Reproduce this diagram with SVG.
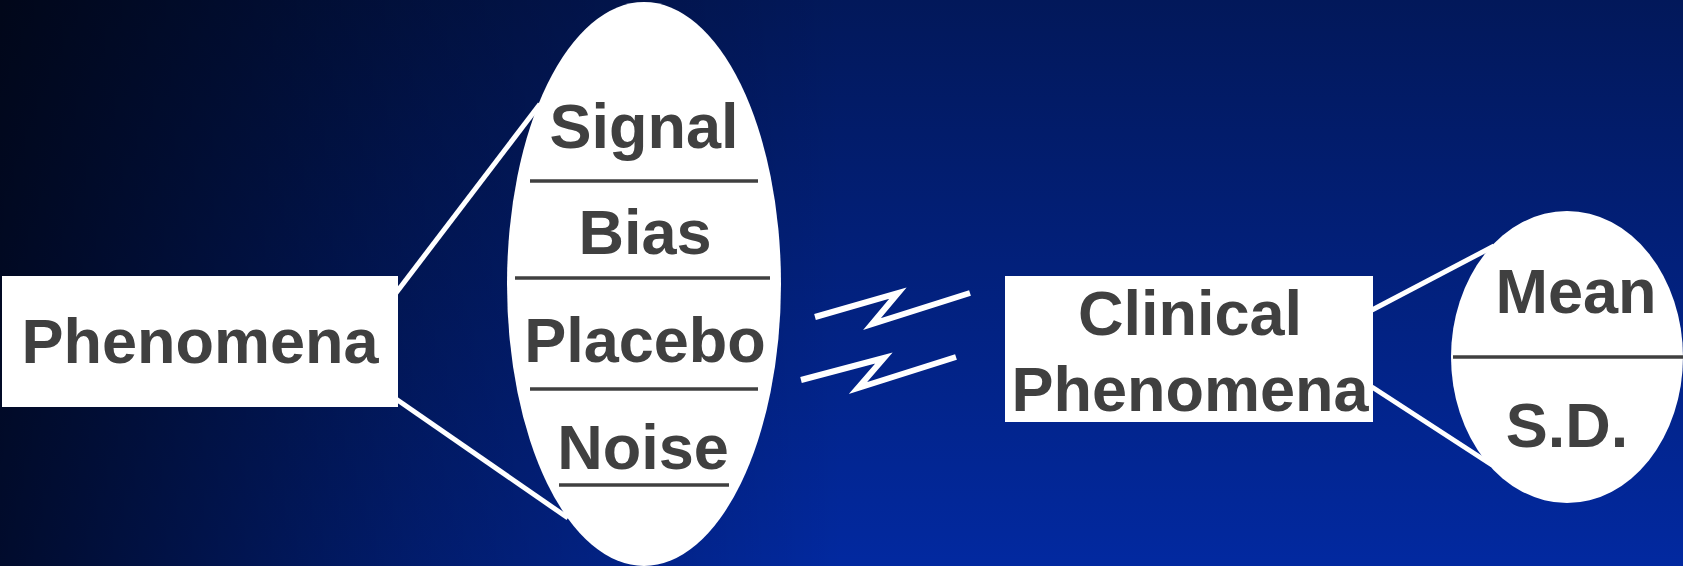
<svg xmlns="http://www.w3.org/2000/svg" width="1683" height="566" viewBox="0 0 1683 566">
  <defs>
    <linearGradient id="bgV" x1="0" y1="0" x2="0" y2="1">
      <stop offset="0" stop-color="#02185a"/>
      <stop offset="1" stop-color="#0229a0"/>
    </linearGradient>
    <linearGradient id="bgH" x1="0" y1="0" x2="1" y2="0">
      <stop offset="0" stop-color="#000000" stop-opacity="0.72"/>
      <stop offset="0.25" stop-color="#000000" stop-opacity="0.32"/>
      <stop offset="0.5" stop-color="#000000" stop-opacity="0"/>
    </linearGradient>
    <style>
      .box { fill: #ffffff; }
      .lbl { font-family: "Liberation Sans", Arial, sans-serif; font-weight: bold; font-size: 63px; fill: #404040; text-anchor: middle; }
      .div { stroke: #404040; stroke-width: 3.5; }
      .conn { stroke: #ffffff; stroke-width: 5; fill: none; }
      .zig { stroke: #ffffff; stroke-width: 6; fill: none; stroke-linejoin: miter; stroke-miterlimit: 10; }
    </style>
  </defs>

  <rect x="0" y="0" width="1683" height="566" fill="url(#bgV)"/>
  <rect x="0" y="0" width="1683" height="566" fill="url(#bgH)"/>

  <g id="connectors">
    <line class="conn" x1="396" y1="293" x2="540" y2="104"/>
    <line class="conn" x1="396" y1="399" x2="568" y2="518"/>
    <line class="conn" x1="1372" y1="310" x2="1494" y2="246"/>
    <line class="conn" x1="1372" y1="387" x2="1492" y2="465"/>
  </g>

  <g id="breaks">
    <polyline class="zig" points="815,317 898,293 872,324 970,293"/>
    <polyline class="zig" points="801,380 884,358 858,388 956,357"/>
  </g>

  <g id="phenomena">
    <rect class="box" x="2" y="276" width="396" height="131"/>
    <text class="lbl" x="200" y="363">Phenomena</text>
  </g>

  <g id="sources">
    <ellipse class="box" cx="644" cy="284" rx="137" ry="282"/>
    <text class="lbl" x="644" y="148">Signal</text>
    <line class="div" x1="530" y1="181" x2="758" y2="181"/>
    <text class="lbl" x="645" y="254">Bias</text>
    <line class="div" x1="515" y1="278" x2="770" y2="278"/>
    <text class="lbl" x="645" y="362">Placebo</text>
    <line class="div" x1="530" y1="389" x2="758" y2="389"/>
    <text class="lbl" x="643" y="469">Noise</text>
    <line class="div" x1="559" y1="485" x2="729" y2="485"/>
  </g>

  <g id="clinical">
    <rect class="box" x="1005" y="276" width="368" height="146"/>
    <text class="lbl" x="1190" y="335">Clinical</text>
    <text class="lbl" x="1190" y="411">Phenomena</text>
  </g>

  <g id="stats">
    <ellipse class="box" cx="1567" cy="357" rx="116" ry="146"/>
    <text class="lbl" x="1576" y="313">Mean</text>
    <line class="div" x1="1453" y1="357" x2="1683" y2="357"/>
    <text class="lbl" x="1567" y="447">S.D.</text>
  </g>
</svg>
